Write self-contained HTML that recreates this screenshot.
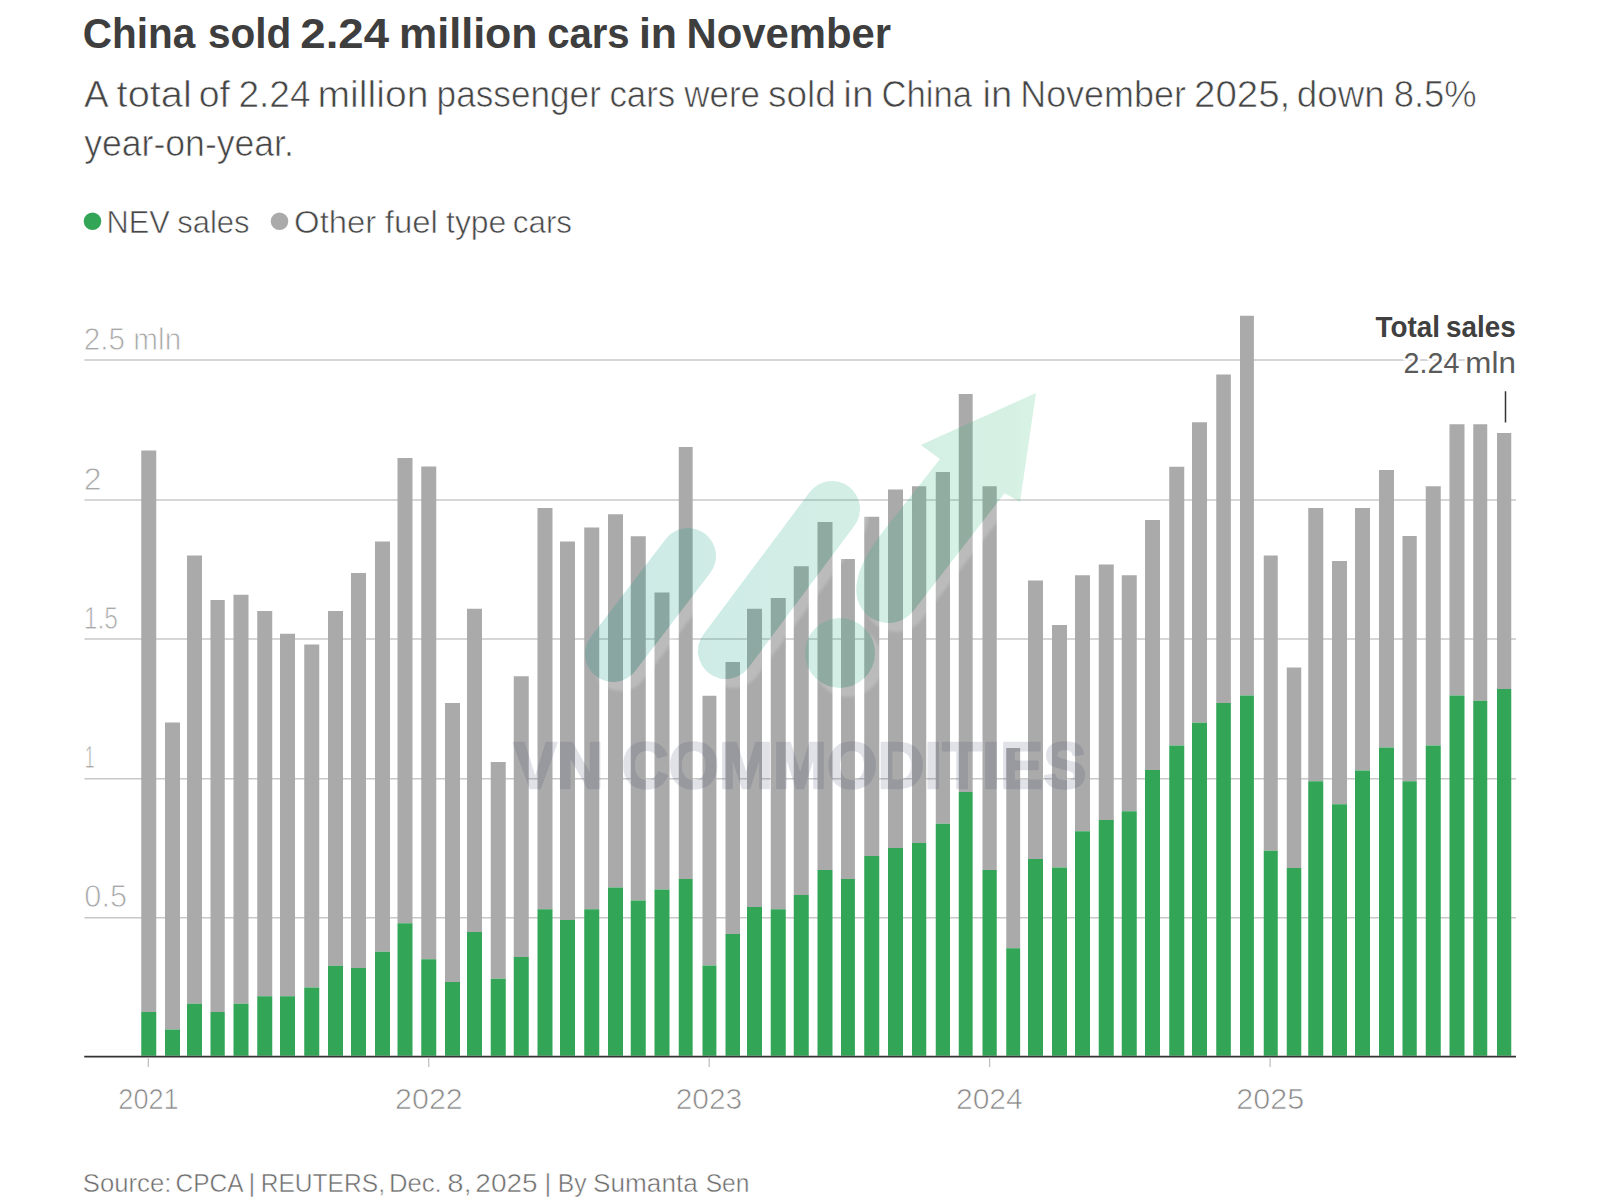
<!DOCTYPE html>
<html lang="en"><head><meta charset="utf-8"><title>China sold 2.24 million cars in November</title>
<style>
html,body{margin:0;padding:0;background:#fff;}
body{width:1600px;height:1200px;overflow:hidden;font-family:"Liberation Sans",sans-serif;}
svg{display:block;}
text{font-family:"Liberation Sans",sans-serif;}
</style></head><body>
<svg width="1600" height="1200" viewBox="0 0 1600 1200">
<defs>
<linearGradient id="wg" gradientUnits="userSpaceOnUse" x1="585" y1="0" x2="1036" y2="0">
<stop offset="0" stop-color="#0a968a"/><stop offset="1" stop-color="#3cc07a"/></linearGradient>
</defs>
<rect width="1600" height="1200" fill="#fff"/>

<text y="47.5" font-size="41.8" fill="#3e3e3e" font-weight="700"><tspan x="82.78" textLength="112.53" lengthAdjust="spacingAndGlyphs">China</tspan> <tspan x="207.98" textLength="83.44" lengthAdjust="spacingAndGlyphs">sold</tspan> <tspan x="300.30" textLength="88.74" lengthAdjust="spacingAndGlyphs">2.24</tspan> <tspan x="399.11" textLength="138.46" lengthAdjust="spacingAndGlyphs">million</tspan> <tspan x="547.14" textLength="82.57" lengthAdjust="spacingAndGlyphs">cars</tspan> <tspan x="638.90" textLength="38.13" lengthAdjust="spacingAndGlyphs">in</tspan> <tspan x="686.58" textLength="204.58" lengthAdjust="spacingAndGlyphs">November</tspan></text>
<text y="106.575" font-size="36.14" fill="#454545" stroke="#ffffff" stroke-width="0.65" paint-order="fill stroke"><tspan x="83.99" textLength="22.65" lengthAdjust="spacingAndGlyphs">A</tspan> <tspan x="116.58" textLength="75.19" lengthAdjust="spacingAndGlyphs">total</tspan> <tspan x="198.68" textLength="31.20" lengthAdjust="spacingAndGlyphs">of</tspan> <tspan x="238.42" textLength="72.17" lengthAdjust="spacingAndGlyphs">2.24</tspan> <tspan x="317.53" textLength="110.90" lengthAdjust="spacingAndGlyphs">million</tspan> <tspan x="436.59" textLength="164.27" lengthAdjust="spacingAndGlyphs">passenger</tspan> <tspan x="609.44" textLength="65.82" lengthAdjust="spacingAndGlyphs">cars</tspan> <tspan x="684.27" textLength="75.74" lengthAdjust="spacingAndGlyphs">were</tspan> <tspan x="768.06" textLength="67.85" lengthAdjust="spacingAndGlyphs">sold</tspan> <tspan x="843.24" textLength="30.35" lengthAdjust="spacingAndGlyphs">in</tspan> <tspan x="881.44" textLength="90.60" lengthAdjust="spacingAndGlyphs">China</tspan> <tspan x="982.50" textLength="29.75" lengthAdjust="spacingAndGlyphs">in</tspan> <tspan x="1020.21" textLength="165.67" lengthAdjust="spacingAndGlyphs">November</tspan> <tspan x="1194.00" textLength="96.29" lengthAdjust="spacingAndGlyphs">2025,</tspan> <tspan x="1296.86" textLength="87.88" lengthAdjust="spacingAndGlyphs">down</tspan> <tspan x="1393.63" textLength="83.04" lengthAdjust="spacingAndGlyphs">8.5%</tspan></text>
<text y="155.825" font-size="36.14" fill="#454545" stroke="#ffffff" stroke-width="0.65" paint-order="fill stroke"><tspan x="84.19" textLength="209.72" lengthAdjust="spacingAndGlyphs">year-on-year.</tspan></text>
<circle cx="92.5" cy="221.25" r="8.75" fill="#32a557"/>
<text y="232.8" font-size="31.77" fill="#484848" stroke="#ffffff" stroke-width="0.6" paint-order="fill stroke"><tspan x="106.47" textLength="63.15" lengthAdjust="spacingAndGlyphs">NEV</tspan> <tspan x="177.25" textLength="72.32" lengthAdjust="spacingAndGlyphs">sales</tspan></text>
<circle cx="279.5" cy="221.25" r="8.75" fill="#aaaaaa"/>
<text y="232.8" font-size="31.77" fill="#484848" stroke="#ffffff" stroke-width="0.6" paint-order="fill stroke"><tspan x="294.14" textLength="82.19" lengthAdjust="spacingAndGlyphs">Other</tspan> <tspan x="384.81" textLength="53.11" lengthAdjust="spacingAndGlyphs">fuel</tspan> <tspan x="446.02" textLength="60.34" lengthAdjust="spacingAndGlyphs">type</tspan> <tspan x="512.77" textLength="59.31" lengthAdjust="spacingAndGlyphs">cars</tspan></text>
<line x1="84.5" x2="1516" y1="360" y2="360" stroke="#c8c8c8" stroke-width="1.5"/>
<line x1="84.5" x2="1516" y1="500" y2="500" stroke="#c8c8c8" stroke-width="1.5"/>
<line x1="84.5" x2="1516" y1="639" y2="639" stroke="#c8c8c8" stroke-width="1.5"/>
<line x1="84.5" x2="1516" y1="778.75" y2="778.75" stroke="#c8c8c8" stroke-width="1.5"/>
<line x1="84.5" x2="1516" y1="917.75" y2="917.75" stroke="#c8c8c8" stroke-width="1.5"/>
<g>
<rect x="141.25" y="450.5" width="15" height="561.50" fill="#aaaaaa"/><rect x="141.25" y="1012" width="15" height="43.75" fill="#32a557"/>
<rect x="165" y="722.5" width="15" height="307.00" fill="#aaaaaa"/><rect x="165" y="1029.5" width="15" height="26.25" fill="#32a557"/>
<rect x="187" y="555.5" width="15" height="448.25" fill="#aaaaaa"/><rect x="187" y="1003.75" width="15" height="52.00" fill="#32a557"/>
<rect x="210.5" y="600" width="14.25" height="412.00" fill="#aaaaaa"/><rect x="210.5" y="1012" width="14.25" height="43.75" fill="#32a557"/>
<rect x="233.5" y="594.75" width="15" height="409.00" fill="#aaaaaa"/><rect x="233.5" y="1003.75" width="15" height="52.00" fill="#32a557"/>
<rect x="257.25" y="611" width="15" height="385.25" fill="#aaaaaa"/><rect x="257.25" y="996.25" width="15" height="59.50" fill="#32a557"/>
<rect x="280" y="633.75" width="15" height="362.50" fill="#aaaaaa"/><rect x="280" y="996.25" width="15" height="59.50" fill="#32a557"/>
<rect x="304.25" y="644.5" width="15" height="343.00" fill="#aaaaaa"/><rect x="304.25" y="987.5" width="15" height="68.25" fill="#32a557"/>
<rect x="328" y="611" width="15" height="354.75" fill="#aaaaaa"/><rect x="328" y="965.75" width="15" height="90.00" fill="#32a557"/>
<rect x="351" y="573" width="15" height="395.00" fill="#aaaaaa"/><rect x="351" y="968" width="15" height="87.75" fill="#32a557"/>
<rect x="375" y="541.5" width="15" height="410.25" fill="#aaaaaa"/><rect x="375" y="951.75" width="15" height="104.00" fill="#32a557"/>
<rect x="397.5" y="458" width="15" height="465.25" fill="#aaaaaa"/><rect x="397.5" y="923.25" width="15" height="132.50" fill="#32a557"/>
<rect x="421.25" y="466.5" width="15" height="492.75" fill="#aaaaaa"/><rect x="421.25" y="959.25" width="15" height="96.50" fill="#32a557"/>
<rect x="445" y="703" width="15" height="279.00" fill="#aaaaaa"/><rect x="445" y="982" width="15" height="73.75" fill="#32a557"/>
<rect x="467" y="608.75" width="15" height="323.25" fill="#aaaaaa"/><rect x="467" y="932" width="15" height="123.75" fill="#32a557"/>
<rect x="490.75" y="762" width="15" height="216.75" fill="#aaaaaa"/><rect x="490.75" y="978.75" width="15" height="77.00" fill="#32a557"/>
<rect x="513.75" y="676.25" width="15" height="280.75" fill="#aaaaaa"/><rect x="513.75" y="957" width="15" height="98.75" fill="#32a557"/>
<rect x="537.5" y="508" width="15" height="401.25" fill="#aaaaaa"/><rect x="537.5" y="909.25" width="15" height="146.50" fill="#32a557"/>
<rect x="560" y="541.5" width="15" height="378.50" fill="#aaaaaa"/><rect x="560" y="920" width="15" height="135.75" fill="#32a557"/>
<rect x="584.25" y="527.5" width="15" height="381.75" fill="#aaaaaa"/><rect x="584.25" y="909.25" width="15" height="146.50" fill="#32a557"/>
<rect x="608" y="514.25" width="15" height="373.25" fill="#aaaaaa"/><rect x="608" y="887.5" width="15" height="168.25" fill="#32a557"/>
<rect x="630.75" y="536.25" width="15" height="364.25" fill="#aaaaaa"/><rect x="630.75" y="900.5" width="15" height="155.25" fill="#32a557"/>
<rect x="654.5" y="592.5" width="15" height="297.00" fill="#aaaaaa"/><rect x="654.5" y="889.5" width="15" height="166.25" fill="#32a557"/>
<rect x="678.75" y="447" width="13.9" height="432.00" fill="#aaaaaa"/><rect x="678.75" y="879" width="13.9" height="176.75" fill="#32a557"/>
<rect x="702.5" y="695.75" width="13.9" height="269.75" fill="#aaaaaa"/><rect x="702.5" y="965.5" width="13.9" height="90.25" fill="#32a557"/>
<rect x="725.5" y="662" width="14.5" height="272.00" fill="#aaaaaa"/><rect x="725.5" y="934" width="14.5" height="121.75" fill="#32a557"/>
<rect x="747" y="608.75" width="15" height="298.25" fill="#aaaaaa"/><rect x="747" y="907" width="15" height="148.75" fill="#32a557"/>
<rect x="770.75" y="598" width="15" height="311.25" fill="#aaaaaa"/><rect x="770.75" y="909.25" width="15" height="146.50" fill="#32a557"/>
<rect x="793.75" y="566.25" width="15" height="328.75" fill="#aaaaaa"/><rect x="793.75" y="895" width="15" height="160.75" fill="#32a557"/>
<rect x="817.5" y="522" width="15" height="348.00" fill="#aaaaaa"/><rect x="817.5" y="870" width="15" height="185.75" fill="#32a557"/>
<rect x="841" y="559" width="13.9" height="320.00" fill="#aaaaaa"/><rect x="841" y="879" width="13.9" height="176.75" fill="#32a557"/>
<rect x="864.25" y="516.75" width="15" height="339.25" fill="#aaaaaa"/><rect x="864.25" y="856" width="15" height="199.75" fill="#32a557"/>
<rect x="888" y="489.5" width="15" height="358.50" fill="#aaaaaa"/><rect x="888" y="848" width="15" height="207.75" fill="#32a557"/>
<rect x="912" y="486.25" width="14.25" height="356.75" fill="#aaaaaa"/><rect x="912" y="843" width="14.25" height="212.75" fill="#32a557"/>
<rect x="935.75" y="472" width="14.25" height="351.75" fill="#aaaaaa"/><rect x="935.75" y="823.75" width="14.25" height="232.00" fill="#32a557"/>
<rect x="958.75" y="394" width="13.9" height="398.00" fill="#aaaaaa"/><rect x="958.75" y="792" width="13.9" height="263.75" fill="#32a557"/>
<rect x="982.5" y="486.25" width="14.25" height="383.75" fill="#aaaaaa"/><rect x="982.5" y="870" width="14.25" height="185.75" fill="#32a557"/>
<rect x="1006.25" y="748" width="13.9" height="200.25" fill="#aaaaaa"/><rect x="1006.25" y="948.25" width="13.9" height="107.50" fill="#32a557"/>
<rect x="1028" y="580.5" width="15" height="278.50" fill="#aaaaaa"/><rect x="1028" y="859" width="15" height="196.75" fill="#32a557"/>
<rect x="1052" y="625" width="15" height="242.50" fill="#aaaaaa"/><rect x="1052" y="867.5" width="15" height="188.25" fill="#32a557"/>
<rect x="1075" y="575.25" width="15" height="256.00" fill="#aaaaaa"/><rect x="1075" y="831.25" width="15" height="224.50" fill="#32a557"/>
<rect x="1098.75" y="564.5" width="15" height="255.50" fill="#aaaaaa"/><rect x="1098.75" y="820" width="15" height="235.75" fill="#32a557"/>
<rect x="1121.75" y="575.25" width="15" height="236.00" fill="#aaaaaa"/><rect x="1121.75" y="811.25" width="15" height="244.50" fill="#32a557"/>
<rect x="1145" y="520" width="15" height="250.00" fill="#aaaaaa"/><rect x="1145" y="770" width="15" height="285.75" fill="#32a557"/>
<rect x="1169.25" y="466.75" width="15" height="278.75" fill="#aaaaaa"/><rect x="1169.25" y="745.5" width="15" height="310.25" fill="#32a557"/>
<rect x="1192" y="422.25" width="15" height="300.50" fill="#aaaaaa"/><rect x="1192" y="722.75" width="15" height="333.00" fill="#32a557"/>
<rect x="1216.25" y="374.5" width="14.6" height="328.50" fill="#aaaaaa"/><rect x="1216.25" y="703" width="14.6" height="352.75" fill="#32a557"/>
<rect x="1240" y="315.75" width="13.9" height="379.75" fill="#aaaaaa"/><rect x="1240" y="695.5" width="13.9" height="360.25" fill="#32a557"/>
<rect x="1263.75" y="555.5" width="14" height="295.25" fill="#aaaaaa"/><rect x="1263.75" y="850.75" width="14" height="205.00" fill="#32a557"/>
<rect x="1286.75" y="667.5" width="14.5" height="200.50" fill="#aaaaaa"/><rect x="1286.75" y="868" width="14.5" height="187.75" fill="#32a557"/>
<rect x="1308.25" y="508" width="15" height="273.25" fill="#aaaaaa"/><rect x="1308.25" y="781.25" width="15" height="274.50" fill="#32a557"/>
<rect x="1332" y="561" width="15" height="243.25" fill="#aaaaaa"/><rect x="1332" y="804.25" width="15" height="251.50" fill="#32a557"/>
<rect x="1355" y="508" width="15" height="262.50" fill="#aaaaaa"/><rect x="1355" y="770.5" width="15" height="285.25" fill="#32a557"/>
<rect x="1379" y="470" width="15" height="277.50" fill="#aaaaaa"/><rect x="1379" y="747.5" width="15" height="308.25" fill="#32a557"/>
<rect x="1402.5" y="536" width="14.25" height="245.25" fill="#aaaaaa"/><rect x="1402.5" y="781.25" width="14.25" height="274.50" fill="#32a557"/>
<rect x="1425.75" y="486.25" width="15" height="259.25" fill="#aaaaaa"/><rect x="1425.75" y="745.5" width="15" height="310.25" fill="#32a557"/>
<rect x="1449.5" y="424.25" width="15" height="271.25" fill="#aaaaaa"/><rect x="1449.5" y="695.5" width="15" height="360.25" fill="#32a557"/>
<rect x="1473.25" y="424.25" width="14" height="276.50" fill="#aaaaaa"/><rect x="1473.25" y="700.75" width="14" height="355.00" fill="#32a557"/>
<rect x="1497" y="433" width="14.25" height="256.00" fill="#aaaaaa"/><rect x="1497" y="689" width="14.25" height="366.75" fill="#32a557"/>
</g>
<text y="349.59999999999997" font-size="30.76" fill="#a8a8a8" stroke="#ffffff" stroke-width="0.8" paint-order="fill stroke"><tspan x="83.87" textLength="97.27" lengthAdjust="spacingAndGlyphs">2.5 mln</tspan></text>
<text y="489.59999999999997" font-size="30.76" fill="#a8a8a8" stroke="#ffffff" stroke-width="0.8" paint-order="fill stroke"><tspan x="83.75" textLength="17.79" lengthAdjust="spacingAndGlyphs">2</tspan></text>
<text y="628.8000000000001" font-size="30.76" fill="#a8a8a8" stroke="#ffffff" stroke-width="0.8" paint-order="fill stroke"><tspan x="83.75" textLength="34.24" lengthAdjust="spacingAndGlyphs">1.5</tspan></text>
<text y="768.4" font-size="30.76" fill="#a8a8a8" stroke="#ffffff" stroke-width="0.8" paint-order="fill stroke"><tspan x="84.78" textLength="9.77" lengthAdjust="spacingAndGlyphs">1</tspan></text>
<text y="907.2" font-size="30.76" fill="#a8a8a8" stroke="#ffffff" stroke-width="0.8" paint-order="fill stroke"><tspan x="84.37" textLength="42.66" lengthAdjust="spacingAndGlyphs">0.5</tspan></text>
<line x1="84.25" x2="1516" y1="1056.6" y2="1056.6" stroke="#333333" stroke-width="1.9"/>
<line x1="148.30" x2="148.30" y1="1057.5" y2="1067" stroke="#bdbdbd" stroke-width="1.2"/>
<text y="1109.1" font-size="30.12" fill="#888888" stroke="#ffffff" stroke-width="0.7" paint-order="fill stroke"><tspan x="118.29" textLength="60.41" lengthAdjust="spacingAndGlyphs">2021</tspan></text>
<line x1="428.75" x2="428.75" y1="1057.5" y2="1067" stroke="#bdbdbd" stroke-width="1.2"/>
<text y="1109.1" font-size="30.12" fill="#888888" stroke="#ffffff" stroke-width="0.7" paint-order="fill stroke"><tspan x="395.13" textLength="67.55" lengthAdjust="spacingAndGlyphs">2022</tspan></text>
<line x1="709.20" x2="709.20" y1="1057.5" y2="1067" stroke="#bdbdbd" stroke-width="1.2"/>
<text y="1109.1" font-size="30.12" fill="#888888" stroke="#ffffff" stroke-width="0.7" paint-order="fill stroke"><tspan x="675.65" textLength="66.53" lengthAdjust="spacingAndGlyphs">2023</tspan></text>
<line x1="989.65" x2="989.65" y1="1057.5" y2="1067" stroke="#bdbdbd" stroke-width="1.2"/>
<text y="1109.1" font-size="30.12" fill="#888888" stroke="#ffffff" stroke-width="0.7" paint-order="fill stroke"><tspan x="955.90" textLength="66.95" lengthAdjust="spacingAndGlyphs">2024</tspan></text>
<line x1="1270.10" x2="1270.10" y1="1057.5" y2="1067" stroke="#bdbdbd" stroke-width="1.2"/>
<text y="1109.1" font-size="30.12" fill="#888888" stroke="#ffffff" stroke-width="0.7" paint-order="fill stroke"><tspan x="1236.33" textLength="67.81" lengthAdjust="spacingAndGlyphs">2025</tspan></text>
<text y="337.0" font-size="29.1" fill="#404040" font-weight="700"><tspan x="1375.47" textLength="64.47" lengthAdjust="spacingAndGlyphs">Total</tspan> <tspan x="1446.03" textLength="69.59" lengthAdjust="spacingAndGlyphs">sales</tspan></text>
<text y="373.0" font-size="29.8" fill="#5a5a5a" stroke="#ffffff" stroke-width="5" stroke-linejoin="round" paint-order="stroke"><tspan x="1403.57" textLength="55.76" lengthAdjust="spacingAndGlyphs">2.24</tspan> <tspan x="1465.39" textLength="50.44" lengthAdjust="spacingAndGlyphs">mln</tspan></text>
<line x1="1505.5" x2="1505.5" y1="391.25" y2="422.5" stroke="#333333" stroke-width="1.5"/>
<filter id="bl" x="-10%" y="-10%" width="120%" height="120%"><feGaussianBlur stdDeviation="1.5"/></filter>
<mask id="wm" maskUnits="userSpaceOnUse" x="500" y="350" width="650" height="400">
<rect x="500" y="350" width="650" height="400" fill="#fff"/>
<g stroke="#000" fill="#000" stroke-linecap="round">
<line x1="613" y1="654" x2="688" y2="556" stroke-width="56"/>
<line x1="726" y1="651" x2="832" y2="509" stroke-width="56"/>
<circle cx="840" cy="653" r="35" stroke="none"/>
<path d="M940 459 L885 529 C868 551 856.3 570 856.3 591 A32 32 0 0 0 913.5 610.7 L1004.6 493.2 L1020 502 L1036 393 L920.8 445 Z" stroke="none"/>
</g></mask>
<g opacity="0.2" mask="url(#wm)">
<g stroke="#ffffff" fill="#ffffff" stroke-linecap="round" transform="translate(8,9)" filter="url(#bl)">
<line x1="613" y1="654" x2="688" y2="556" stroke-width="56"/>
<line x1="726" y1="651" x2="832" y2="509" stroke-width="56"/>
<circle cx="840" cy="653" r="35" stroke="none"/>
<path d="M940 459 L885 529 C868 551 856.3 570 856.3 591 A32 32 0 0 0 913.5 610.7 L1004.6 493.2 Z" stroke="none"/>
</g></g>
<g opacity="0.2">
<g stroke="url(#wg)" fill="url(#wg)" stroke-linecap="round">
<line x1="613" y1="654" x2="688" y2="556" stroke-width="56"/>
<line x1="726" y1="651" x2="832" y2="509" stroke-width="56"/>
<circle cx="840" cy="653" r="35" stroke="none"/>
<path d="M940 459 L885 529 C868 551 856.3 570 856.3 591 A32 32 0 0 0 913.5 610.7 L1004.6 493.2 L1020 502 L1036 393 L920.8 445 Z" stroke="none"/>
</g></g>
<g opacity="0.14"><text x="513.5" y="787.5" font-size="65" font-weight="700" fill="#2d3764" stroke="#2d3764" stroke-width="2.4" stroke-linejoin="round" textLength="573" lengthAdjust="spacingAndGlyphs">VN COMMODITIES</text></g>

<text y="1191.5" font-size="26.13" fill="#6c6c6c" stroke="#ffffff" stroke-width="0.5" paint-order="fill stroke"><tspan x="82.84" textLength="88.50" lengthAdjust="spacingAndGlyphs">Source:</tspan> <tspan x="175.55" textLength="66.72" lengthAdjust="spacingAndGlyphs">CPCA</tspan> <tspan x="248.60">|</tspan> <tspan x="260.72" textLength="124.27" lengthAdjust="spacingAndGlyphs">REUTERS,</tspan> <tspan x="388.89" textLength="52.70" lengthAdjust="spacingAndGlyphs">Dec.</tspan> <tspan x="447.26" textLength="24.42" lengthAdjust="spacingAndGlyphs">8,</tspan> <tspan x="475.35" textLength="62.33" lengthAdjust="spacingAndGlyphs">2025</tspan> <tspan x="544.60">|</tspan> <tspan x="557.71" textLength="28.84" lengthAdjust="spacingAndGlyphs">By</tspan> <tspan x="593.07" textLength="104.68" lengthAdjust="spacingAndGlyphs">Sumanta</tspan> <tspan x="705.64" textLength="43.75" lengthAdjust="spacingAndGlyphs">Sen</tspan></text>
</svg></body></html>
